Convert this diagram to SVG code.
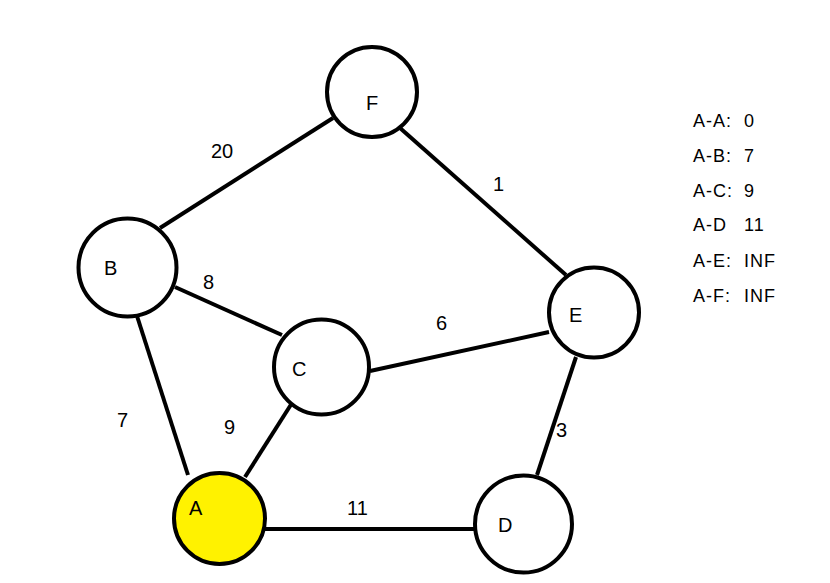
<svg xmlns="http://www.w3.org/2000/svg" width="830" height="583" viewBox="0 0 830 583">
  <style>
    .edge { stroke: #000; stroke-width: 4; fill: none; }
    .node { stroke: #000; stroke-width: 4; fill: #fff; }
    .start { fill: #fff200; }
    .lbl { font-family: "Liberation Sans", Arial, sans-serif; font-size: 20px; fill: #000; }
    .nlbl { font-family: "Liberation Sans", Arial, sans-serif; font-size: 20px; fill: #000; }
    .leg { font-family: "Liberation Sans", Arial, sans-serif; font-size: 18px; fill: #000; letter-spacing: 1px; }
  </style>
  <rect width="830" height="583" fill="#fff"/>
  <g id="connectors">
    <line class="edge" x1="333" y1="118" x2="160" y2="228"/>
    <line class="edge" x1="400" y1="128" x2="566" y2="275"/>
    <line class="edge" x1="175" y1="287" x2="282" y2="335"/>
    <line class="edge" x1="370" y1="371" x2="549" y2="332"/>
    <line class="edge" x1="292" y1="403" x2="245" y2="477"/>
    <line class="edge" x1="137" y1="316" x2="188" y2="475"/>
    <line class="edge" x1="261" y1="529" x2="474" y2="529"/>
    <line class="edge" x1="576" y1="357" x2="537" y2="475"/>
    <circle cx="261" cy="529" r="3.5" fill="#000"/>
    <text class="lbl" x="211" y="158">20</text>
    <text class="lbl" x="493" y="191">1</text>
    <text class="lbl" x="203" y="289">8</text>
    <text class="lbl" x="436" y="330">6</text>
    <text class="lbl" x="117" y="427">7</text>
    <text class="lbl" x="224" y="434">9</text>
    <text class="lbl" x="556" y="437">3</text>
    <text class="lbl" x="347" y="515">11</text>
  </g>
  <g id="node-F">
    <circle class="node" cx="372" cy="92" r="45"/>
    <text class="nlbl" x="366" y="110">F</text>
  </g>
  <g id="node-B">
    <circle class="node" cx="127.5" cy="267.5" r="49"/>
    <text class="nlbl" x="104" y="275">B</text>
  </g>
  <g id="node-C">
    <circle class="node" cx="321.5" cy="367" r="47.5"/>
    <text class="nlbl" x="292" y="376">C</text>
  </g>
  <g id="node-E">
    <circle class="node" cx="594" cy="312.5" r="45"/>
    <text class="nlbl" x="569" y="322">E</text>
  </g>
  <g id="node-D">
    <circle class="node" cx="523.5" cy="524" r="48.5"/>
    <text class="nlbl" x="498" y="532">D</text>
  </g>
  <g id="node-A">
    <circle class="node start" cx="219.5" cy="518.5" r="45.5"/>
    <text class="nlbl" x="189" y="515">A</text>
  </g>
  <g id="legend">
    <text class="leg" x="693" y="127">A-A:</text><text class="leg" x="744" y="127">0</text>
    <text class="leg" x="693" y="162">A-B:</text><text class="leg" x="744" y="162">7</text>
    <text class="leg" x="693" y="197">A-C:</text><text class="leg" x="744" y="197">9</text>
    <text class="leg" x="693" y="231">A-D</text><text class="leg" x="744" y="231">11</text>
    <text class="leg" x="693" y="267">A-E:</text><text class="leg" x="744" y="267">INF</text>
    <text class="leg" x="693" y="302">A-F:</text><text class="leg" x="744" y="302">INF</text>
  </g>
</svg>
